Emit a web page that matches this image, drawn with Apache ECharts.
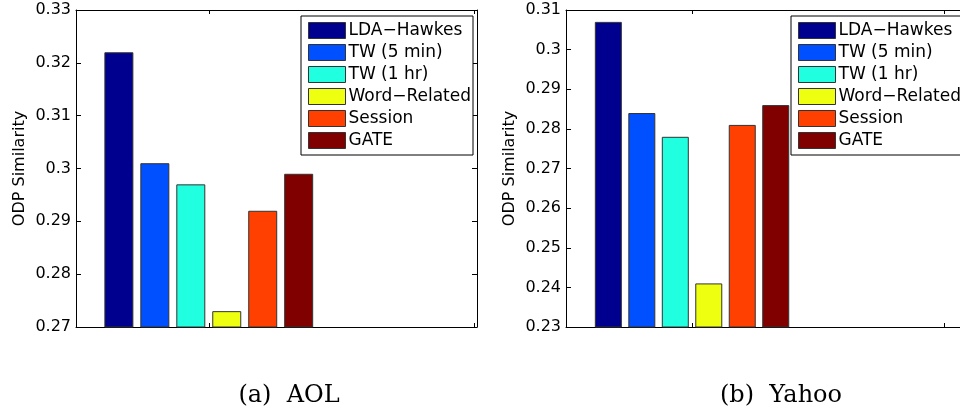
<!DOCTYPE html>
<html>
<head>
<meta charset="utf-8">
<script src="https://cdn.jsdelivr.net/npm/echarts@6/dist/echarts.min.js"></script>
<style>
html,body{margin:0;padding:0;background:#fff;}
#chart{width:960px;height:418px;}
</style>
</head>
<body>
<div id="chart"></div>
<script>
const methods = ['LDA\u2212Hawkes', 'TW (5 min)', 'TW (1 hr)', 'Word\u2212Related', 'Session', 'GATE'];
const colors = ['#00008F', '#0050FF', '#20FFDF', '#EFFF10', '#FF4000', '#800000'];
const aolValues = [0.322, 0.301, 0.297, 0.273, 0.292, 0.299];
const yahooValues = [0.307, 0.284, 0.278, 0.241, 0.281, 0.286];
const aolRange = [0.27, 0.33];
const yahooRange = [0.23, 0.31];
const groupPosition = 1;
const xTickValues = [1, 2];
const captions = ['(a)  AOL', '(b)  Yahoo'];
const yAxisTitle = 'ODP Similarity';

const chart = echarts.init(document.getElementById('chart'), null, {renderer: 'canvas'});

const FONT = 'DejaVu Sans';

function xAxes(gridIndex, max) {
  const base = {
    type: 'value', gridIndex: gridIndex, min: 0.5, max: max,
    axisLine: {show: true, onZero: false, lineStyle: {color: '#000', width: 1}},
    axisTick: {show: true, inside: true, length: 4, customValues: xTickValues, lineStyle: {color: '#000'}},
    axisLabel: {show: false},
    splitLine: {show: false}
  };
  return [Object.assign({position: 'bottom'}, base), Object.assign({position: 'top'}, base)];
}

function yAxes(gridIndex, range, showRight) {
  const base = {
    type: 'value', gridIndex: gridIndex, min: range[0], max: range[1], interval: 0.01,
    axisLine: {show: true, onZero: false, lineStyle: {color: '#000', width: 1}},
    axisTick: {show: true, inside: true, length: 5, lineStyle: {color: '#000'}},
    splitLine: {show: false}
  };
  const right = Object.assign({position: 'right', axisLabel: {show: false}}, base);
  if (!showRight) {
    right.axisLine = {show: false};
    right.axisTick = {show: false};
  }
  return [
    Object.assign({
      position: 'left',
      name: yAxisTitle, nameLocation: 'middle', nameGap: 48,
      nameTextStyle: {fontFamily: FONT, fontSize: 16, color: '#000'},
      axisLabel: {show: true, margin: 5, fontFamily: FONT, fontSize: 16, color: '#000'}
    }, base),
    right
  ];
}

function barSeries(values, axisOffset, barWidth) {
  return values.map((v, i) => ({
    name: methods[i],
    type: 'bar',
    xAxisIndex: axisOffset,
    yAxisIndex: axisOffset,
    data: [[groupPosition, v]],
    barWidth: barWidth,
    barGap: '24%',
    itemStyle: {color: colors[i], borderColor: '#333', borderWidth: 1},
    emphasis: {disabled: true},
    animation: false
  }));
}

function legend(left) {
  return {
    data: methods,
    orient: 'vertical',
    left: left, top: 16,
    padding: [6, 2, 6, 7],
    itemWidth: 37, itemHeight: 16, itemGap: 5,
    icon: 'rect',
    backgroundColor: '#fff',
    borderColor: '#000', borderWidth: 1,
    itemStyle: {borderColor: '#333', borderWidth: 1},
    textStyle: {fontFamily: FONT, fontSize: 17, color: '#000', lineHeight: 16, padding: [0, 0, 0, -2]},
    selectedMode: false
  };
}

const option = {
  animation: false,
  backgroundColor: '#fff',
  title: [
    {text: captions[0], left: 284, top: 379, textAlign: 'center',
     textStyle: {fontFamily: 'DejaVu Serif', fontSize: 24, fontWeight: 'normal', color: '#000'}},
    {text: captions[1], left: 776, top: 379, textAlign: 'center',
     textStyle: {fontFamily: 'DejaVu Serif', fontSize: 24, fontWeight: 'normal', color: '#000'}}
  ],
  grid: [
    {left: 76, top: 10, width: 401, height: 317, containLabel: false},
    {left: 566, top: 10, width: 394, height: 317, containLabel: false}
  ],
  xAxis: xAxes(0, 2.01).concat(xAxes(1, 2.063)),
  yAxis: yAxes(0, aolRange, true).concat(yAxes(1, yahooRange, false)),
  legend: [legend(301), legend(791)],
  series: barSeries(aolValues, 0, 29).concat(barSeries(yahooValues, 2, 27))
};

chart.setOption(option);
</script>
</body>
</html>
